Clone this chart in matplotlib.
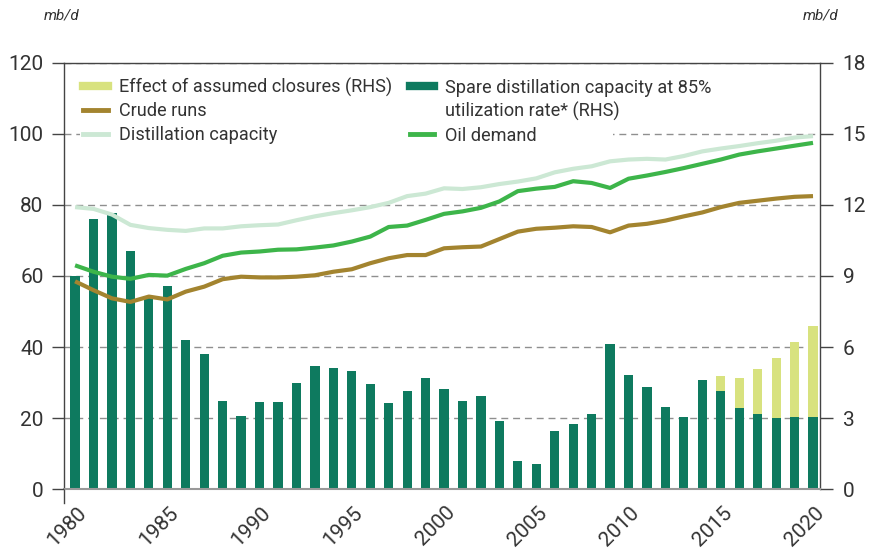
import numpy as np
import matplotlib
matplotlib.use("Agg")
import matplotlib.pyplot as plt
from matplotlib.lines import Line2D
from matplotlib.patches import Rectangle
from matplotlib.transforms import ScaledTranslation

plt.rcParams['font.family'] = ['Roboto', 'DejaVu Sans']

# Annual series 1980-2020
years = np.arange(1980, 2021)

# mb/d, left-hand scale
distillation_capacity = [79.4, 78.9, 77.3, 74.4, 73.5, 73.0, 72.7, 73.4, 73.4, 74.0,
                         74.3, 74.5, 75.7, 76.8, 77.7, 78.5, 79.4, 80.6, 82.5, 83.2,
                         84.7, 84.5, 85.0, 85.9, 86.6, 87.5, 89.2, 90.2, 90.9, 92.3,
                         92.8, 93.0, 92.8, 93.8, 95.1, 95.9, 96.6, 97.4, 98.1, 99.0,
                         99.4]
oil_demand = [63.0, 61.2, 59.8, 59.2, 60.3, 60.1, 62.0, 63.6, 65.7, 66.6,
              66.9, 67.4, 67.5, 68.0, 68.6, 69.7, 71.1, 73.8, 74.2, 75.8,
              77.5, 78.2, 79.2, 81.0, 83.9, 84.6, 85.1, 86.7, 86.2, 84.8,
              87.4, 88.3, 89.3, 90.4, 91.6, 92.8, 94.2, 95.1, 95.9, 96.7,
              97.5]
crude_runs = [58.5, 56.0, 53.7, 52.7, 54.2, 53.4, 55.6, 57.0, 59.1, 59.8,
              59.6, 59.6, 59.8, 60.2, 61.2, 61.9, 63.6, 65.0, 65.9, 65.9,
              67.8, 68.1, 68.3, 70.4, 72.5, 73.3, 73.6, 74.0, 73.8, 72.3,
              74.2, 74.7, 75.6, 76.8, 77.9, 79.4, 80.6, 81.2, 81.8, 82.3,
              82.5]

# mb/d, right-hand scale
spare_capacity = [9.0, 11.4, 11.65, 10.05, 8.07, 8.56, 6.3, 5.7, 3.71, 3.07,
                  3.69, 3.66, 4.49, 5.18, 5.11, 5.0, 4.43, 3.64, 4.15, 4.68,
                  4.23, 3.71, 3.91, 2.89, 1.17, 1.06, 2.45, 2.75, 3.17, 6.14,
                  4.81, 4.30, 3.45, 3.06, 4.60, 4.12, 3.44, 3.18, 3.01, 3.03,
                  3.03]
closures = [0] * 35 + [0.65, 1.23, 1.89, 2.52, 3.18, 3.86]

left_ticks = [0, 20, 40, 60, 80, 100, 120]
right_ticks = [0, 3, 6, 9, 12, 15, 18]
year_ticks = [1980, 1985, 1990, 1995, 2000, 2005, 2010, 2015, 2020]

c_spare = '#0e7a5f'
c_closure = '#d8e27f'
c_crude = '#a3842f'
c_capacity = '#cce8d4'
c_demand = '#3db54a'
c_text = '#333333'
c_axis = '#444444'
c_grid = '#8f8f8f'

fig = plt.figure(figsize=(8.72, 5.51), dpi=100)
axr = fig.add_axes([0.0734, 0.1125, 0.867, 0.7732])
axl = axr.twinx()

# bars on the RHS scale, drawn underneath the lines
axr.bar(years, spare_capacity, width=0.5, color=c_spare, zorder=2)
axr.bar(years, closures, bottom=spare_capacity, width=0.5, color=c_closure, zorder=2)
axr.set_ylim(0, 18)
axr.set_yticks(right_ticks)
axr.set_xlim(1979.4, 2020.38)
axr.yaxis.tick_right()
axr.set_axisbelow(True)
axr.yaxis.grid(True, color=c_grid, linewidth=1, linestyle=(0, (5, 3.5)))

# white panel behind the key, masking the gridline there
axr.add_patch(Rectangle((0.021, 0.81), 0.705, 0.185, transform=axr.transAxes,
                        facecolor='white', edgecolor='none', zorder=1))

axl.plot(years, distillation_capacity, color=c_capacity, lw=3, solid_capstyle='butt')
axl.plot(years, crude_runs, color=c_crude, lw=3, solid_capstyle='butt')
axl.plot(years, oil_demand, color=c_demand, lw=3, solid_capstyle='butt')
axl.set_ylim(0, 120)
axl.set_yticks(left_ticks)
axl.yaxis.tick_left()
for s in axl.spines.values():
    s.set_visible(False)

for side in ['left', 'right', 'top']:
    axr.spines[side].set_color(c_axis)
    axr.spines[side].set_linewidth(1)
axr.spines['left'].set_bounds(-0.6, 18)
axr.spines['bottom'].set_color('#999999')
axr.spines['bottom'].set_linewidth(1.5)

axl.tick_params(axis='y', length=8.7, width=1, color=c_axis, labelsize=15,
                labelcolor=c_text, pad=6)
axr.tick_params(axis='y', length=9.4, width=1, color=c_axis, labelsize=15,
                labelcolor=c_text, pad=7)
axr.set_xticks(year_ticks)
axr.set_xticklabels([str(y) for y in year_ticks], rotation=45, ha='right',
                    va='top', rotation_mode='anchor')
axr.tick_params(axis='x', length=0, labelsize=15, labelcolor=c_text, pad=10)
shift = ScaledTranslation(1 / 72, 0, fig.dpi_scale_trans)
for lab in axr.get_xticklabels():
    lab.set_transform(lab.get_transform() + shift)

fig.text(0.071, 0.972, 'mb/d', style='italic', fontsize=11, color=c_text,
         ha='center', va='center')
fig.text(0.941, 0.972, 'mb/d', style='italic', fontsize=11, color=c_text,
         ha='center', va='center')

handles = [
    Line2D([], [], color=c_closure, lw=6),
    Line2D([], [], color=c_crude, lw=3.5),
    Line2D([], [], color=c_capacity, lw=3.5),
    Line2D([], [], color=c_spare, lw=6),
    Line2D([], [], color='none'),
    Line2D([], [], color=c_demand, lw=3.5),
]
labels = ['Effect of assumed closures (RHS)', 'Crude runs', 'Distillation capacity',
          'Spare distillation capacity at 85%', 'utilization rate* (RHS)', 'Oil demand']
leg = axl.legend(handles, labels, ncol=2, loc='upper left', bbox_to_anchor=(0.018, 0.978),
                 fontsize=13.1, frameon=False, handlelength=1.35, handletextpad=0.6,
                 columnspacing=1.0, labelspacing=0.3, borderpad=0.3, borderaxespad=0)
for t in leg.get_texts():
    t.set_color(c_text)

fig.savefig('out.png', dpi=100)
